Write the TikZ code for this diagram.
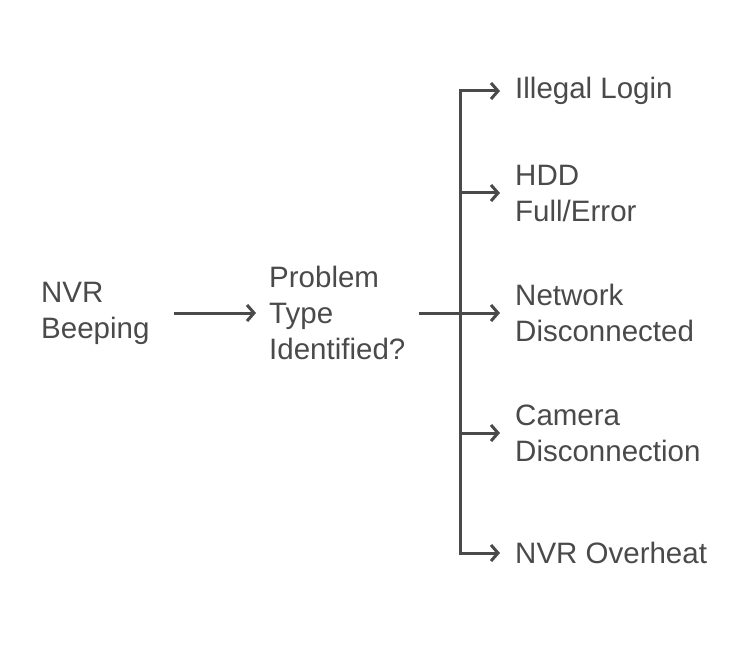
\documentclass[tikz,border=0pt]{standalone}
\usepackage{fontspec}
\setmainfont{Liberation Sans}
\usetikzlibrary{arrows.meta}
\definecolor{ink}{HTML}{4A4A4A}

\begin{document}
\begin{tikzpicture}[x=1pt, y=-1pt,
  every node/.style = {text=ink, align=left, anchor=west, inner ysep=0pt,
    font=\fontsize{29.5}{36}\selectfont},
  flow/.style = {draw=ink, line width=3pt,
    -{Straight Barb[length=7pt, width=16pt, line width=3pt]}}]
  \useasboundingbox (0,0) rectangle (747,663);
  \node[inner xsep=24pt] (beep) at (17,313) {NVR\\Beeping};
  \node[inner xsep=13pt] (problem) at (256,313) {Problem\\Type\\Identified?};
  \coordinate (split) at (460,313);
  \node[inner xsep=15pt] (login) at (500,91) {Illegal Login};
  \node[inner xsep=15pt] (hdd) at (500,193) {HDD\\Full/Error};
  \node[inner xsep=15pt] (net) at (500,313) {Network\\Disconnected};
  \node[inner xsep=15pt] (cam) at (500,433) {Camera\\Disconnection};
  \node[inner xsep=15pt] (heat) at (500,553) {NVR Overheat};
  \draw[flow] (beep.east) -- (problem.west);
  \draw[draw=ink, line width=3pt] (problem.east) -- (split);
  \foreach \t in {login, hdd, net, cam, heat}
    \draw[flow] (split) |- (\t.west);
\end{tikzpicture}
\end{document}
